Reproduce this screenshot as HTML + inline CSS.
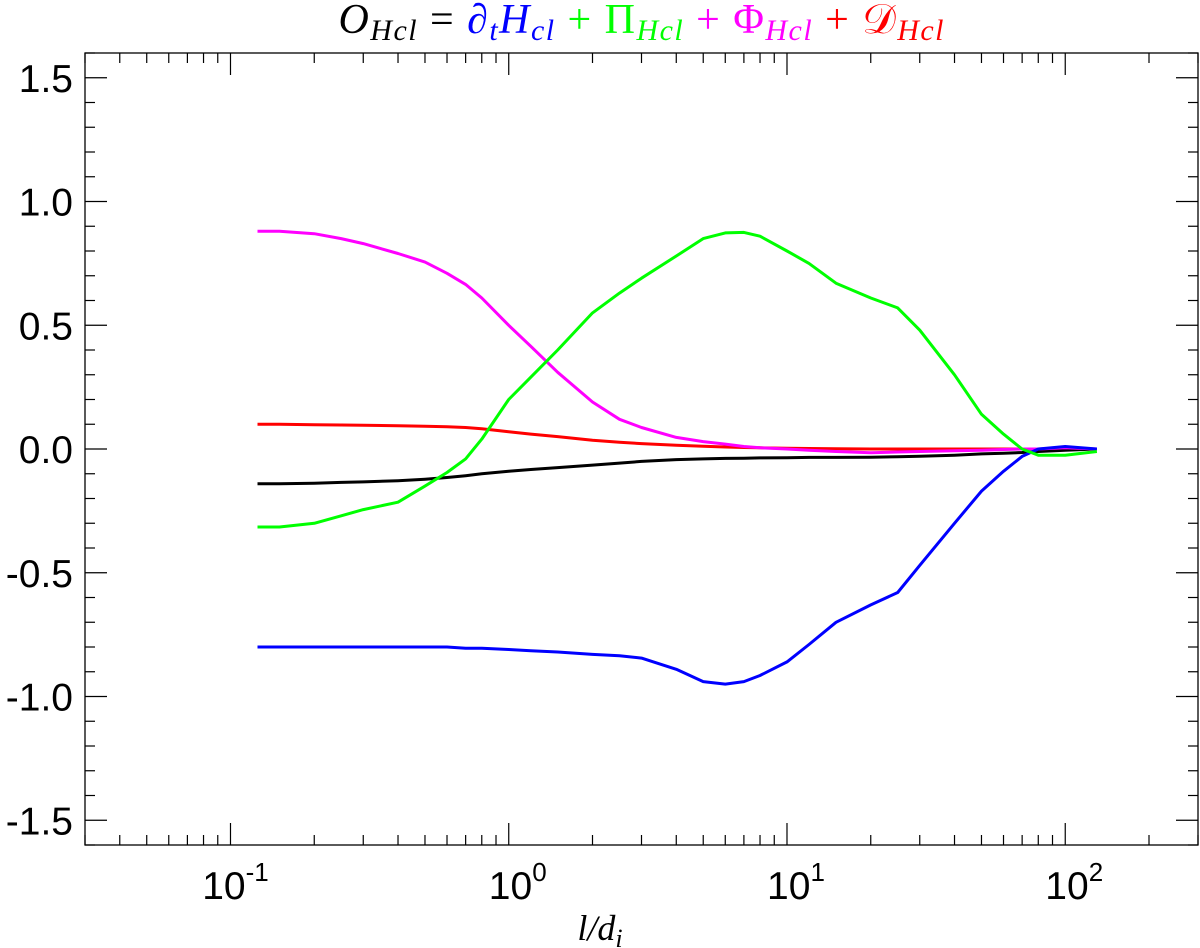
<!DOCTYPE html>
<html><head><meta charset="utf-8"><style>
html,body{margin:0;padding:0;background:#fff;}
svg{display:block;}
</style></head><body>
<svg id="chart" width="1200" height="948" xmlns="http://www.w3.org/2000/svg">
<text x="641" y="33" text-anchor="middle" font-family="Liberation Serif, serif" font-size="42" font-style="italic" textLength="605" lengthAdjust="spacing"><tspan fill="#000">O</tspan><tspan fill="#000" font-size="30" dy="7">Hcl</tspan><tspan fill="#000" font-style="normal" dy="-7"> = </tspan><tspan fill="#0000ff">∂</tspan><tspan fill="#0000ff" font-size="30" dy="7">t</tspan><tspan fill="#0000ff" dy="-7">H</tspan><tspan fill="#0000ff" font-size="30" dy="7">cl</tspan><tspan fill="#00ff00" font-style="normal" dy="-7"> + Π</tspan><tspan fill="#00ff00" font-size="30" dy="7">Hcl</tspan><tspan fill="#ff00ff" font-style="normal" dy="-7"> + Φ</tspan><tspan fill="#ff00ff" font-size="30" dy="7">Hcl</tspan><tspan fill="#ff0000" font-style="normal" dy="-7"> + 𝒟</tspan><tspan fill="#ff0000" font-size="30" dy="7">Hcl</tspan></text>
<g id="axes"></g>
<g id="series"></g>
<text x="600" y="940" text-anchor="middle" font-family="Liberation Serif, serif" font-size="36" font-style="italic">l/d<tspan font-size="26" dy="7">i</tspan></text>
</svg>
<script>
const xVals=[0.125,0.15,0.2,0.25,0.3,0.4,0.5,0.6,0.7,0.8,1,1.2,1.5,2,2.5,3,4,5,6,7,8,10,12,15,20,25,30,40,50,60,70,80,100,130];
const magenta=[0.88,0.88,0.87,0.85,0.83,0.79,0.755,0.71,0.665,0.61,0.50,0.415,0.31,0.19,0.12,0.087,0.047,0.03,0.02,0.01,0.005,0,-0.005,-0.01,-0.015,-0.012,-0.01,-0.007,-0.005,-0.002,0,0,0.005,0];
const green=[-0.315,-0.315,-0.30,-0.27,-0.245,-0.215,-0.15,-0.095,-0.04,0.04,0.20,0.29,0.40,0.55,0.63,0.69,0.78,0.85,0.873,0.875,0.86,0.80,0.75,0.67,0.61,0.57,0.48,0.30,0.14,0.06,0.0,-0.025,-0.025,-0.01];
const blue=[-0.80,-0.80,-0.80,-0.80,-0.80,-0.80,-0.80,-0.80,-0.805,-0.805,-0.81,-0.815,-0.82,-0.83,-0.835,-0.845,-0.89,-0.94,-0.95,-0.94,-0.915,-0.86,-0.79,-0.70,-0.63,-0.58,-0.47,-0.30,-0.17,-0.09,-0.03,0.0,0.01,0.0];
const red=[0.10,0.10,0.098,0.097,0.096,0.094,0.092,0.09,0.087,0.082,0.07,0.06,0.05,0.035,0.027,0.022,0.015,0.011,0.008,0.006,0.005,0.003,0.002,0.001,0,0,0,0,0,0,0,0,0,0];
const black=[-0.14,-0.14,-0.138,-0.135,-0.133,-0.128,-0.122,-0.115,-0.108,-0.10,-0.09,-0.083,-0.075,-0.065,-0.057,-0.05,-0.043,-0.04,-0.038,-0.037,-0.036,-0.035,-0.034,-0.034,-0.033,-0.031,-0.029,-0.025,-0.02,-0.017,-0.014,-0.01,-0.005,0];
const yTicks=[-1.5,-1.0,-0.5,0.0,0.5,1.0,1.5];
const yTickLabels=["-1.5","-1.0","-0.5","0.0","0.5","1.0","1.5"];
const xDecades=[-1,0,1,2];

const L=85,R=1198,T=53,B=845;
const xmin=Math.log10(0.03),xmax=Math.log10(300),ymin=-1.6,ymax=1.6;
function sx(v){return L+(Math.log10(v)-xmin)/(xmax-xmin)*(R-L);}
function sy(v){return B-(v-ymin)/(ymax-ymin)*(B-T);}
const NS="http://www.w3.org/2000/svg";
const axes=document.getElementById('axes');
function mk(tag,attrs,parent){const e=document.createElementNS(NS,tag);for(const k in attrs)e.setAttribute(k,attrs[k]);parent.appendChild(e);return e;}

const frame=mk('rect',{x:L,y:T,width:R-L,height:B-T,fill:'none',stroke:'#000','stroke-width':1.3},axes);



for(let i=-16;i<=16;i++){
  const v=i/10,y=sy(v),major=(i%5===0);
  const len=major?22:10;
  mk('line',{x1:L,y1:y,x2:L+len,y2:y,stroke:'#000','stroke-width':1.2},axes);
  mk('line',{x1:R,y1:y,x2:R-len,y2:y,stroke:'#000','stroke-width':1.2},axes);
}
yTicks.forEach((v,i)=>{
  const t=mk('text',{x:73,y:sy(v)+14,'text-anchor':'end','font-family':'Liberation Sans, sans-serif','font-size':39},axes);
  t.textContent=yTickLabels[i];
  
  
});
for(let d=-2;d<=2;d++){
  for(let m=1;m<=9;m++){
    const v=m*Math.pow(10,d);
    if(v<0.03||v>300)continue;
    const x=sx(v),len=(m===1)?22:10;
    mk('line',{x1:x,y1:B,x2:x,y2:B-len,stroke:'#000','stroke-width':1.2},axes);
    mk('line',{x1:x,y1:T,x2:x,y2:T+len,stroke:'#000','stroke-width':1.2},axes);
  }
}
xDecades.forEach(d=>{
  const x=sx(Math.pow(10,d));
  const t=mk('text',{x:x+(d<0?5:9),y:899,'text-anchor':'middle','font-family':'Liberation Sans, sans-serif','font-size':39},axes);
  
  
  const a=mk('tspan',{},t);a.textContent='10';
  const b=mk('tspan',{dy:-18,'font-size':26},t);b.textContent=String(d);
});

const series=document.getElementById('series');
function drawLine(vals,color,name){
  const pts=vals.map((v,i)=>sx(xVals[i]).toFixed(1)+','+sy(v).toFixed(1)).join(' ');
  const p=mk('polyline',{points:pts,fill:'none',stroke:color,'stroke-width':3,'stroke-linejoin':'round'},series);
  
  
}
drawLine(red,'#ff0000','line-dissipation');
drawLine(black,'#000000','line-total');
drawLine(magenta,'#ff00ff','line-phi');
drawLine(blue,'#0000ff','line-dt-h');
drawLine(green,'#00ff00','line-pi');
</script>
</body></html>
